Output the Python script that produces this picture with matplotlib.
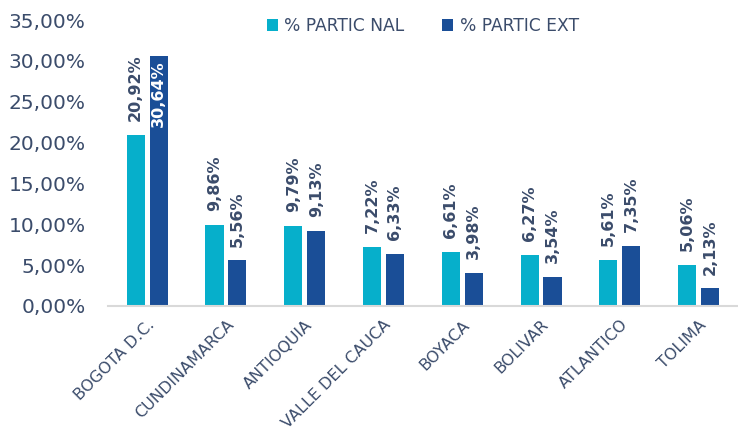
import numpy as np
import matplotlib.pyplot as plt
from matplotlib.ticker import FuncFormatter

departamentos = ['BOGOTA D.C.', 'CUNDINAMARCA', 'ANTIOQUIA', 'VALLE DEL CAUCA',
                 'BOYACA', 'BOLIVAR', 'ATLANTICO', 'TOLIMA']
partic_nal = [20.92, 9.86, 9.79, 7.22, 6.61, 6.27, 5.61, 5.06]
partic_ext = [30.64, 5.56, 9.13, 6.33, 3.98, 3.54, 7.35, 2.13]

c_nal = '#06AFCB'
c_ext = '#1A4E97'
c_txt = '#3B4C6B'

fig = plt.figure(figsize=(7.38, 4.29), dpi=100)
ax = fig.add_axes([0.146, 0.287, 0.854, 0.666])

x = np.arange(len(departamentos))
w = 0.23
off = 0.145
b1 = ax.bar(x - off, [v / 100 for v in partic_nal], w, color=c_nal, label='% PARTIC NAL')
b2 = ax.bar(x + off, [v / 100 for v in partic_ext], w, color=c_ext, label='% PARTIC EXT')

def fmt(v):
    return f'{v:.2f}%'.replace('.', ',')

for bars, vals in ((b1, partic_nal), (b2, partic_ext)):
    for bar, v in zip(bars, vals):
        cx = bar.get_x() + bar.get_width() / 2
        top = bar.get_height()
        if v > 30:
            ax.annotate(fmt(v), (cx, top), xytext=(0, -3), textcoords='offset points',
                        rotation=90, ha='center', va='top', color='white',
                        fontsize=11.5, fontweight='bold')
        else:
            ax.annotate(fmt(v), (cx, top), xytext=(0, 10), textcoords='offset points',
                        rotation=90, ha='center', va='bottom', color=c_txt,
                        fontsize=11.5, fontweight='bold')

ax.set_ylim(0, 0.35)
ax.set_yticks(np.arange(0, 0.351, 0.05))
ax.yaxis.set_major_formatter(FuncFormatter(lambda v, p: f'{v*100:.2f}%'.replace('.', ',')))
ax.set_xlim(-0.5, len(departamentos) - 0.5)
ax.set_xticks(x)
ax.set_xticklabels(departamentos, rotation=45, ha='right', rotation_mode='anchor')

for s in ['top', 'right', 'left']:
    ax.spines[s].set_visible(False)
ax.spines['bottom'].set_color('#D9D9D9')
ax.spines['bottom'].set_linewidth(1.5)
ax.tick_params(axis='both', length=0, colors=c_txt)
ax.tick_params(axis='y', labelsize=14.5, pad=16)
ax.tick_params(axis='x', labelsize=11.5, pad=8)

ax.legend(loc='upper center', bbox_to_anchor=(0.5, 1.065), ncol=2, frameon=False,
          fontsize=12.3, labelcolor=c_txt, handlelength=0.65, handleheight=0.65,
          handletextpad=0.4, columnspacing=2.2)

fig.savefig('out.png', dpi=100)
